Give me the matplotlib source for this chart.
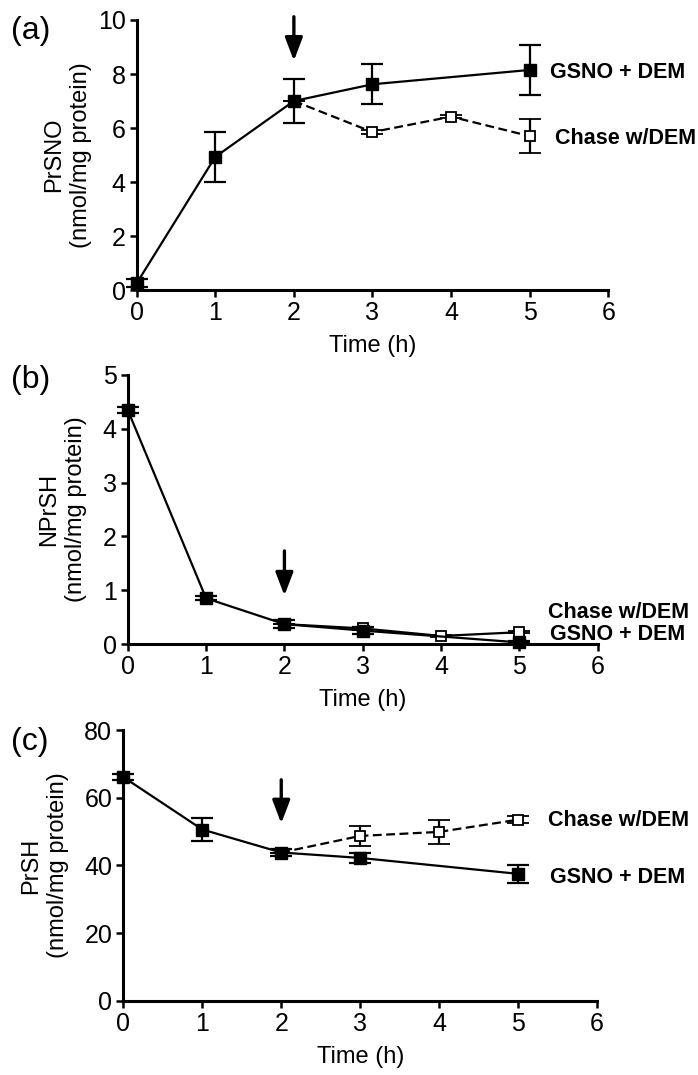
import numpy as np
import matplotlib
matplotlib.use("Agg")
import matplotlib.pyplot as plt

plt.rcParams["font.family"] = ["Liberation Sans", "DejaVu Sans"]

################################################################################
# Data
################################################################################

t_gsno = [0, 1, 2, 3, 5]
t_chase = [2, 3, 4, 5]

# (a) PrSNO
a_gsno = [0.25, 4.93, 7.0, 7.62, 8.15]
a_gsno_err = [0.15, 0.92, 0.83, 0.74, 0.93]
a_chase = [7.0, 5.85, 6.42, 5.70]
a_chase_err = [0.0, 0.08, 0.06, 0.64]

# (b) NPrSH
b_gsno = [4.35, 0.85, 0.37, 0.25, 0.03]
b_gsno_err = [0.05, 0.04, 0.08, 0.07, 0.02]
b_chase = [0.37, 0.29, 0.15, 0.22]
b_chase_err = [0.0, 0.03, 0.02, 0.02]

# (c) PrSH
c_gsno = [66.1, 50.6, 43.8, 42.2, 37.5]
c_gsno_err = [0.8, 3.5, 1.0, 1.6, 2.7]
c_chase = [43.8, 48.7, 49.9, 53.5]
c_chase_err = [0.0, 3.0, 3.6, 1.0]

x_ticks = [0, 1, 2, 3, 4, 5, 6]

################################################################################
# Plotting
################################################################################

fig = plt.figure(figsize=(6.98, 10.75), dpi=100)

panels = [
    dict(rect=[0.1958, 0.7302, 0.6757, 0.2512], tag="(a)", tag_y=0.9716,
         ylabel="PrSNO\n(nmol/mg protein)", ymax=10, yticks=[0, 2, 4, 6, 8, 10],
         gsno=a_gsno, gsno_err=a_gsno_err, chase=a_chase, chase_err=a_chase_err,
         chase_ls="--", arrow=(10.12, 8.49), lab_x=-0.095,
         gsno_lab=(5.26, 8.04), chase_lab=(5.32, 5.63)),
    dict(rect=[0.1830, 0.4009, 0.6734, 0.2503], tag="(b)", tag_y=0.6465,
         ylabel="NPrSH\n(nmol/mg protein)", ymax=5, yticks=[0, 1, 2, 3, 4, 5],
         gsno=b_gsno, gsno_err=b_gsno_err, chase=b_chase, chase_err=b_chase_err,
         chase_ls="-", arrow=(1.73, 0.90), lab_x=-0.087,
         gsno_lab=(5.39, 0.17), chase_lab=(5.37, 0.595)),
    dict(rect=[0.1767, 0.0691, 0.6787, 0.2518], tag="(c)", tag_y=0.3102,
         ylabel="PrSH\n(nmol/mg protein)", ymax=80, yticks=[0, 20, 40, 60, 80],
         gsno=c_gsno, gsno_err=c_gsno_err, chase=c_chase, chase_err=c_chase_err,
         chase_ls="--", arrow=(65.3, 52.4), lab_x=-0.115,
         gsno_lab=(5.40, 36.3), chase_lab=(5.38, 53.3)),
]

for p in panels:
    ax = fig.add_axes(p["rect"])

    # chase line (open squares)
    ax.errorbar(t_chase, p["chase"], yerr=p["chase_err"], color="black",
                linestyle=p["chase_ls"], linewidth=1.6,
                dashes=(4, 2) if p["chase_ls"] == "--" else (None, None),
                marker="s", markersize=6.5, markerfacecolor="white", markeredgecolor="black",
                markeredgewidth=1.3, capsize=8, capthick=1.6, elinewidth=1.6,
                clip_on=False, zorder=3)
    # GSNO + DEM line (filled squares)
    ax.errorbar(t_gsno, p["gsno"], yerr=p["gsno_err"], color="black",
                linestyle="-", linewidth=1.6, marker="s", markersize=8,
                markerfacecolor="black", markeredgecolor="black",
                capsize=8, capthick=1.6, elinewidth=1.6, clip_on=False, zorder=4)

    ax.set_xlim(0, 6)
    ax.set_ylim(0, p["ymax"])
    ax.set_xticks(x_ticks)
    ax.set_yticks(p["yticks"])
    for s in ["top", "right"]:
        ax.spines[s].set_visible(False)
    for s in ["left", "bottom"]:
        ax.spines[s].set_linewidth(2.2)
    ax.tick_params(width=1.8, length=5, labelsize=18, pad=3)

    ax.set_xlabel("Time (h)", fontsize=17, labelpad=7)
    ax.set_ylabel(p["ylabel"], fontsize=17, linespacing=1.3)
    ax.yaxis.set_label_coords(p["lab_x"], 0.5)

    # arrow marking the chase start
    ax.annotate("", xy=(2, p["arrow"][1]), xytext=(2, p["arrow"][0]),
                arrowprops=dict(arrowstyle="-|>,head_width=0.38,head_length=1.0",
                                mutation_scale=14, lw=2.4, color="black",
                                shrinkA=0, shrinkB=0),
                annotation_clip=False)

    ax.text(p["gsno_lab"][0], p["gsno_lab"][1], "GSNO + DEM", fontsize=15.5,
            fontweight="bold", va="center", ha="left", clip_on=False)
    ax.text(p["chase_lab"][0], p["chase_lab"][1], "Chase w/DEM", fontsize=15.5,
            fontweight="bold", va="center", ha="left", clip_on=False)

    fig.text(0.016, p["tag_y"], p["tag"], fontsize=23, va="center", ha="left")

fig.savefig("out.png", dpi=100)
